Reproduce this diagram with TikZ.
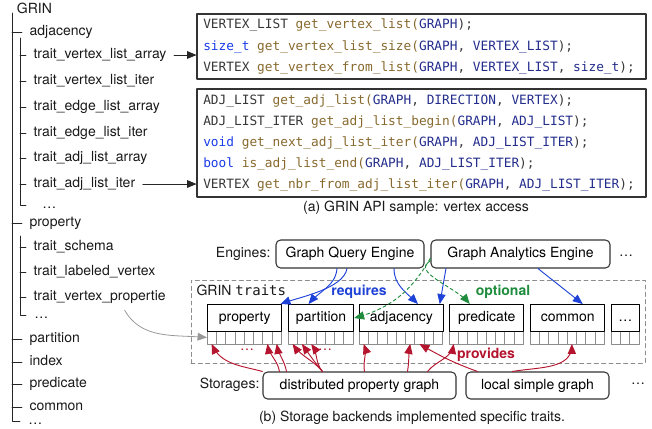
\documentclass[tikz,border=0pt]{standalone}
\usepackage{fontspec}
\setmainfont{TeX Gyre Heros}
\setmonofont{DejaVu Sans Mono}
\usetikzlibrary{arrows}

\definecolor{reqblue}{RGB}{30,65,215}
\definecolor{optgreen}{RGB}{30,140,60}
\definecolor{provred}{RGB}{180,20,45}
\definecolor{typgray}{RGB}{55,55,55}
\definecolor{fnbrown}{RGB}{135,105,45}
\definecolor{argnavy}{RGB}{35,45,140}
\definecolor{kwblue}{RGB}{25,60,230}

\newcommand{\cty}[1]{\textcolor{typgray}{#1}}
\newcommand{\cfn}[1]{\textcolor{fnbrown}{#1}}
\newcommand{\carg}[1]{\textcolor{argnavy}{#1}}
\newcommand{\ckw}[1]{\textcolor{kwblue}{#1}}

\tikzset{
  tree/.style={anchor=west, inner xsep=5.5pt, inner ysep=1pt, text height=7.5pt, text depth=2pt, font=\fontsize{10.5}{12.5}\selectfont, text=black!90},
  treeline/.style={line width=0.6pt, black!85},
  codebox/.style={draw=black!80, line width=0.9pt, minimum width=336.75pt, inner sep=0pt},
  codeline/.style={anchor=west, inner sep=0pt, text height=7pt, text depth=2pt, font=\fontsize{9.6}{11}\ttfamily, text=typgray},
  plain/.style={inner sep=1pt, font=\fontsize{10.5}{12.5}\selectfont, text=black!90},
  engine/.style={draw=black!80, rounded corners=3.5pt, line width=0.8pt, minimum height=21pt, inner sep=0pt, text height=7.5pt, text depth=2pt, font=\fontsize{10.5}{12.5}\selectfont},
  traitbox/.style={draw=black, line width=0.8pt, fill=white, minimum height=20.25pt, inner sep=0pt, text height=7.5pt, text depth=2pt, font=\fontsize{10.5}{12.5}\selectfont},
  cell/.style={draw=black!45, line width=0.5pt, fill=white},
  traitsframe/.style={draw=black!45, dash pattern=on 3pt off 2.5pt, line width=0.7pt, minimum width=340.5pt, minimum height=62.25pt},
  tag/.style={inner sep=0pt, font=\fontsize{10.5}{12.5}\selectfont\bfseries},
  req/.style={->, reqblue, line width=0.7pt},
  opt/.style={->, optgreen, line width=0.7pt, dash pattern=on 2.5pt off 2pt},
  prov/.style={->, provred, line width=0.7pt},
}

\begin{document}
\begin{tikzpicture}[line cap=round,line join=round,>=triangle 45,x=0.75pt,y=-0.75pt]
\useasboundingbox (0,0) rectangle (652,428);

% trait tree
\node[tree, inner xsep=2pt] (grin) at (14,10) {GRIN};
\node[tree] (adj) at (22,32) {adjacency};
\node[tree] (tvla) at (26,55) {trait\_vertex\_list\_array};
\node[tree] (tvli) at (26,81) {trait\_vertex\_list\_iter};
\node[tree] (tela) at (26,107) {trait\_edge\_list\_array};
\node[tree] (teli) at (26,133) {trait\_edge\_list\_iter};
\node[tree] (tala) at (26,158) {trait\_adj\_list\_array};
\node[tree] (tali) at (26,184) {trait\_adj\_list\_iter};
\node[tree, inner xsep=12pt] (adjmore) at (26,205) {\ldots};
\node[tree] (prop) at (22,223) {property};
\node[tree] (tsch) at (26,247) {trait\_schema};
\node[tree] (tlv) at (26,272) {trait\_labeled\_vertex};
\node[tree] (tvp) at (26,297) {trait\_vertex\_propertie};
\node[tree, inner xsep=6pt] (propmore) at (26,315) {\ldots};
\node[tree] (part) at (22,339) {partition};
\node[tree] (idx) at (22,362) {index};
\node[tree] (pred) at (22,384) {predicate};
\node[tree] (comm) at (22,407) {common};
\node[tree, inner xsep=6pt] (more) at (20,421) {\ldots};

\coordinate (trunk) at (12,13);
\draw[treeline] (trunk) |- (more.west);
\foreach \n in {adj,prop,part,idx,pred,comm}
  \draw[treeline] (trunk |- \n.west) -- (\n.west);
\coordinate (adjtrunk) at (20,38);
\draw[treeline] (adjtrunk) |- (adjmore.west);
\foreach \n in {tvla,tvli,tela,teli,tala,tali}
  \draw[treeline] (adjtrunk |- \n.west) -- (\n.west);
\coordinate (proptrunk) at (20,236);
\draw[treeline] (proptrunk) |- (propmore.west);
\foreach \n in {tsch,tlv,tvp}
  \draw[treeline] (proptrunk |- \n.west) -- (\n.west);

% (a) api samples
\node[codebox, minimum height=48.75pt] (api1) at (421.5,46.5) {};
\node[codeline] (vl1) at (203,25) {\cty{VERTEX\_LIST} \cfn{get\_vertex\_list(}\carg{GRAPH});};
\node[codeline] (vl2) at (203,47) {\ckw{size\_t} \cfn{get\_vertex\_list\_size(}\carg{GRAPH}, \carg{VERTEX\_LIST});};
\node[codeline] (vl3) at (203,68) {\cty{VERTEX} \cfn{get\_vertex\_from\_list(}\carg{GRAPH}, \carg{VERTEX\_LIST}, \carg{size\_t});};

\node[codebox, minimum height=81pt] (api2) at (421.5,143) {};
\node[codeline] (al1) at (203,101) {\cty{ADJ\_LIST} \cfn{get\_adj\_list(}\carg{GRAPH}, \carg{DIRECTION}, \carg{VERTEX});};
\node[codeline] (al2) at (203,122) {\cty{ADJ\_LIST\_ITER} \cfn{get\_adj\_list\_begin(}\carg{GRAPH}, \carg{ADJ\_LIST});};
\node[codeline] (al3) at (203,143) {\ckw{void} \cfn{get\_next\_adj\_list\_iter(}\carg{GRAPH}, \carg{ADJ\_LIST\_ITER});};
\node[codeline] (al4) at (203,164) {\ckw{bool} \cfn{is\_adj\_list\_end(}\carg{GRAPH}, \carg{ADJ\_LIST\_ITER});};
\node[codeline] (al5) at (203,185) {\cty{VERTEX} \cfn{get\_nbr\_from\_adj\_list\_iter(}\carg{GRAPH}, \carg{ADJ\_LIST\_ITER});};

\draw[->, treeline] (tvla.east) -- (api1.west |- tvla.east);
\draw[->, treeline] (tali.east) -- (api2.west |- tali.east);
\node[plain] (capa) at (416,208) {(a) GRIN API sample: vertex access};

% (b) engines, traits, storages
\node[traitsframe] (traits) at (418,321.5) {};
\node[plain, anchor=west] (traitslbl) at (195,290) {GRIN \texttt{traits}};

\node[plain, anchor=east] (englbl) at (272,254) {Engines:};
\node[engine, minimum width=111pt] (gqe) at (350,254) {Graph Query Engine};
\node[engine, minimum width=134.25pt] (gae) at (520.5,254) {Graph Analytics Engine};
\node[plain] (engmore) at (626,256) {\ldots};

\foreach \nm/\x/\n/\lbl in {property/207/8/property, partition/288/7/partition, adjacency/359/9/adjacency, predicate/449/8/predicate, common/530/8/common, traitmore/611/3/\ldots}{
  \foreach \i in {1,...,\n}{
    \draw[cell] ({\x+(\i-1)*9.3},331) rectangle ++(9.3,13);
    \coordinate (\nm-\i) at ({\x+(\i-0.5)*9.3},344);
  }
  \node[traitbox, minimum width=\n*6.975pt, anchor=north west] (\nm) at (\x,304) {\lbl};
  \coordinate (\nm-w) at (\x,337.5);
}

\node[tag, text=reqblue] (reqlbl) at (359,292) {requires};
\node[tag, text=optgreen] (optlbl) at (503,292) {optional};
\node[tag, text=provred] (provlbl) at (486,355) {provides};
\node[plain, text=provred] (pdots1) at (247,350) {\ldots};
\node[plain, text=provred] (pdots2) at (325,350) {\ldots};

\node[plain, anchor=east] (stlbl) at (261,385) {Storages:};
\node[engine, minimum width=144.75pt, minimum height=20.25pt] (dpg) at (359.5,385.5) {distributed property graph};
\node[engine, minimum width=107.25pt, minimum height=20.25pt] (lsg) at (537.5,385.5) {local simple graph};
\node[plain] (stmore) at (638,384) {\ldots};
\node[plain] (capb) at (412,418) {(b) Storage backends implemented specific traits.};

% requires
\draw[req] ([xshift=-2.25pt]gqe.south) to[out=-100,in=20,looseness=0.7] ([xshift=-1.5pt]property.north east);
\draw[req] ([xshift=-9.75pt]gqe.south) to[out=-95,in=50] ([xshift=-9.4pt]partition.north);
\draw[req] ([xshift=33pt]gqe.south) to[out=-90,in=135] ([xshift=12.4pt]adjacency.north);
\draw[req] ([xshift=-55.9pt]gae.south) -- ([xshift=-3pt]adjacency.north east);
\draw[req] ([xshift=13.1pt]gae.south) -- ([xshift=11.25pt]common.north);

% optional
\draw[opt] ([yshift=-3pt]gae.west) to[out=-120,in=15] (partition.east);
\draw[opt] ([yshift=-5pt]gae.west) to[out=-150,in=130] ([xshift=-12.75pt]predicate.north);

% provides
\draw[prov] (dpg.north west) to[out=165,in=-65] (property-1);
\draw[prov] ([xshift=12.75pt]dpg.north west) to[out=100,in=-80] (property-7);
\draw[prov] ([xshift=18pt]dpg.north west) to[out=100,in=-80] (property-8);
\foreach \i in {1,2,3}
  \draw[prov] ([xshift=45pt]dpg.north west) to[out=130,in=-55] (partition-\i);
\draw[prov] ([xshift=76.5pt]dpg.north west) to[out=100,in=-70] (adjacency-1);
\draw[prov] ([xshift=108.75pt]dpg.north west) to[out=80,in=-100] (adjacency-6);
\draw[prov] ([xshift=123.75pt]dpg.north west) to[out=50,in=-100] (predicate-1);
\draw[prov] ([xshift=9pt]lsg.north west) to[out=160,in=-30] (adjacency-7);
\draw[prov] ([xshift=35.25pt]lsg.north west) to[out=10,in=-90] (common-5);

% trait_vertex_propertie -> property
\draw[->, black!40, line width=0.6pt] ([xshift=74pt,yshift=-4pt]tvp.south west) to[out=-60,in=175] (property-w);
\end{tikzpicture}
\end{document}
